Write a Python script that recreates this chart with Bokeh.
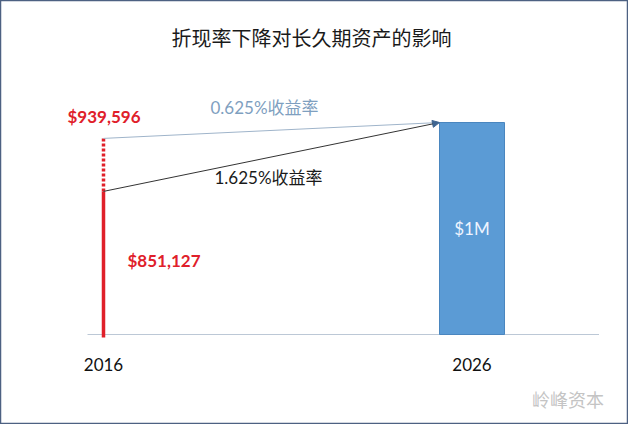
from bokeh.plotting import figure
from bokeh.models import Range1d, Arrow, NormalHead
from bokeh.core.properties import value
from bokeh.embed import file_html
from bokeh.resources import INLINE

# data
years = [2016, 2026]
year_labels = ["2016", "2026"]
pv_low = 675000       # drawn height of the solid red line (1.625%)
pv_high = 925000      # drawn height of the dotted top (0.625%)
fv = 1000000          # future value bar
pv_low_label = "$851,127"
pv_high_label = "$939,596"
fv_label = "$1M"
rate_labels = ["0.625%收益率", "1.625%收益率"]
title = "折现率下降对长久期资产的影响"
watermark = "岭峰资本"

W, H = 628, 424
px_x = 36.85            # pixels per year
px_y = 212 / fv         # pixels per dollar
x0 = years[0] - 103 / px_x
y0 = -90 / px_y

p = figure(width=W, height=H, output_backend="svg", toolbar_location=None,
           x_axis_location=None, y_axis_location=None, min_border=0,
           x_range=Range1d(x0, x0 + W / px_x), y_range=Range1d(y0, y0 + H / px_y))
p.grid.visible = False
p.outline_line_color = "#4d6182"
p.outline_line_width = 1.5

def dx(px):
    return px / px_x

def dy(px):
    return px / px_y

LAT = value("Lato, 'Noto Sans CJK SC'")
CJK = value("'Noto Sans CJK SC'")

# baseline
p.segment(x0=[years[0] - dx(16)], y0=[0], x1=[years[1] + dx(127)], y1=[0],
          line_color="#bcc8d6", line_width=1)

# bar for 2026
bar_w = dx(65)
p.vbar(x=[years[1]], top=[fv], bottom=0, width=bar_w,
       fill_color="#5b9bd5", line_color="#4a86bf", line_width=1)

# red present-value line (solid + dotted)
p.segment(x0=[years[0]], y0=[-dy(3)], x1=[years[0]], y1=[pv_low],
          line_color="#e0202a", line_width=3.5)
p.segment(x0=[years[0]], y0=[pv_low], x1=[years[0]], y1=[pv_high],
          line_color="#e0202a", line_width=3.5, line_dash="3 2")

# growth lines converging at the bar top
tip_x = years[1] - bar_w / 2
p.add_layout(Arrow(x_start=years[0], y_start=pv_high, x_end=tip_x, y_end=fv,
                   line_color="#9fb4ca", line_width=1, end=None))
p.add_layout(Arrow(x_start=years[0], y_start=pv_low, x_end=tip_x, y_end=fv,
                   line_color="#333333", line_width=1,
                   end=NormalHead(size=7, fill_color="#3f6591", line_color="#3f6591")))

# value labels
p.text(x=[years[0] - dx(36)], y=[pv_high + dy(22)], text=[pv_high_label],
       text_font=LAT, text_font_size="17px", text_font_style="bold",
       text_color="#e0202a", text_align="left", text_baseline="middle")
p.text(x=[years[0] + dx(24)], y=[dy(74)], text=[pv_low_label],
       text_font=LAT, text_font_size="17px", text_font_style="bold",
       text_color="#e0202a", text_align="left", text_baseline="middle")
p.text(x=[years[0] + dx(107)], y=[fv + dy(15)], text=[rate_labels[0]],
       text_font=LAT, text_font_size="17px", text_color="#7f9fbf",
       text_align="left", text_baseline="middle")
p.text(x=[years[0] + dx(111)], y=[dy(157)], text=[rate_labels[1]],
       text_font=LAT, text_font_size="17px", text_color="#1a1a1a",
       text_align="left", text_baseline="middle")
p.text(x=[years[1]], y=[fv / 2], text=[fv_label],
       text_font=LAT, text_font_size="17px", text_color="#eef4ff",
       text_align="center", text_baseline="middle")

# year labels
p.text(x=years, y=[-dy(30)] * 2, text=year_labels,
       text_font=LAT, text_font_size="17px", text_color="#111111",
       text_align="center", text_baseline="middle")

# title
p.text(x=[years[0] + dx(208)], y=[dy(297)], text=[title],
       text_font=CJK, text_font_size="20px", text_color="#1a1a1a",
       text_align="center", text_baseline="middle")

# watermark
p.text(x=[years[1] + dx(60)], y=[-dy(64)], text=[watermark],
       text_font=CJK, text_font_size="18px", text_color="#c4c4c4",
       text_align="left", text_baseline="middle")

open("out.html", "w").write(file_html(p, INLINE))
